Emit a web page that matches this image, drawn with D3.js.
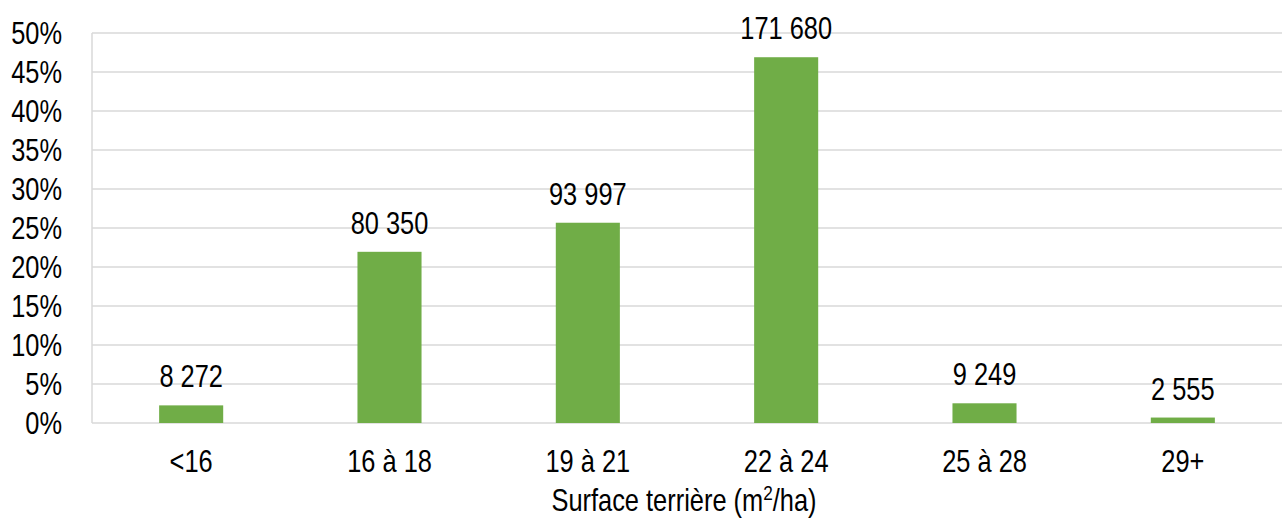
<!DOCTYPE html>
<html><head><meta charset="utf-8">
<script src="https://cdn.jsdelivr.net/npm/d3@7"></script>
<style>
body{margin:0;background:#fff;}
text{font-family:"Liberation Sans",Arial,sans-serif;fill:#000;}
</style></head><body>
<svg id="c" width="1282" height="523"></svg>
<script>
const categories = ["<16","16 à 18","19 à 21","22 à 24","25 à 28","29+"];
const counts = [8272, 80350, 93997, 171680, 9249, 2555];
const yTicks = [0,0.05,0.10,0.15,0.20,0.25,0.30,0.35,0.40,0.45,0.50];

(function(){
const total = d3.sum(counts);
const shares = counts.map(c => c / total);

const svg = d3.select("#c");
const pL = 92, pR = 1282, pT = 33, pB = 423;
const x = d3.scaleBand().domain(categories).range([pL, pR]).padding(0);
const y = d3.scaleLinear().domain([0, 0.5]).range([pB, pT]);
const barW = x.bandwidth() * 0.323;
const fs = 31;
const sx = 0.82;
const tr = (px, py) => `translate(${px},${py}) scale(${sx},1)`;

svg.append("g").selectAll("line").data(yTicks).join("line")
  .attr("x1", pL).attr("x2", pR)
  .attr("y1", d => y(d)).attr("y2", d => y(d))
  .attr("stroke", "#d9d9d9").attr("stroke-width", 1.5);
svg.append("line").attr("x1", pL).attr("x2", pL).attr("y1", y(0.5)).attr("y2", y(0))
  .attr("stroke", "#d9d9d9").attr("stroke-width", 1.5);

svg.append("g").selectAll("text").data(yTicks).join("text")
  .attr("transform", d => tr(62, y(d) + 11))
  .attr("text-anchor", "end").style("font-size", fs + "px")
  .text(d => d3.format(".0%")(d));

svg.append("g").selectAll("rect").data(categories).join("rect")
  .attr("x", d => x(d) + x.bandwidth()/2 - barW/2)
  .attr("width", barW)
  .attr("y", (d,i) => y(shares[i]))
  .attr("height", (d,i) => y(0) - y(shares[i]))
  .attr("fill", "#70ad47");

const fmt = n => d3.format(",")(n).replace(/,/g, " ");
svg.append("g").selectAll("text").data(categories).join("text")
  .attr("transform", (d,i) => tr(x(d) + x.bandwidth()/2, y(shares[i]) - 18))
  .attr("text-anchor", "middle").style("font-size", fs + "px")
  .text((d,i) => fmt(counts[i]));

svg.append("g").selectAll("text").data(categories).join("text")
  .attr("transform", d => tr(x(d) + x.bandwidth()/2, 472))
  .attr("text-anchor", "middle").style("font-size", fs + "px")
  .text(d => d);

const t = svg.append("text").attr("transform", tr(684, 511))
  .attr("text-anchor", "middle").style("font-size", fs + "px");
t.append("tspan").text("Surface terrière (m");
t.append("tspan").attr("dy", -11).style("font-size", "21px").text("2");
t.append("tspan").attr("dy", 11).text("/ha)");
})();
</script>
</body></html>
